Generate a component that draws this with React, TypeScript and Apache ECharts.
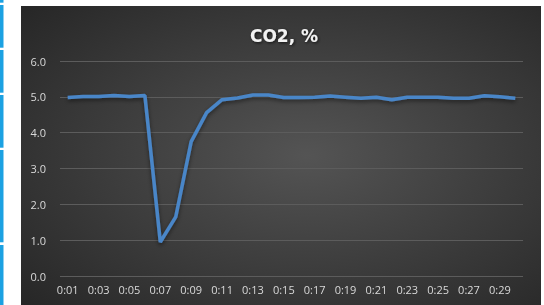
import React, { useEffect, useRef } from "react";
import * as echarts from "echarts";

const categories = [
  "0:01", "0:02", "0:03", "0:04", "0:05", "0:06", "0:07", "0:08", "0:09", "0:10",
  "0:11", "0:12", "0:13", "0:14", "0:15", "0:16", "0:17", "0:18", "0:19", "0:20",
  "0:21", "0:22", "0:23", "0:24", "0:25", "0:26", "0:27", "0:28", "0:29", "0:30",
];
const co2Values = [
  4.98, 5.01, 5.01, 5.04, 5.01, 5.04, 0.95, 1.65, 3.75, 4.56,
  4.92, 4.97, 5.05, 5.05, 4.98, 4.98, 4.99, 5.02, 4.99, 4.96,
  4.99, 4.92, 4.99, 4.99, 4.99, 4.96, 4.96, 5.03, 5.0, 4.96,
];
const yTicks = [0, 1, 2, 3, 4, 5, 6];
const titleText = "CO2, %";
const stripeSegments: [number, number][] = [
  [0, 2.7], [5, 47.7], [50, 92.7], [95, 147.7], [150, 242.3], [245, 305],
];

export default function App() {
  const ref = useRef<HTMLDivElement>(null);
  useEffect(() => {
    if (!ref.current) return;
    const chart = echarts.init(ref.current, undefined, { renderer: "svg" });
    const graphics: any[] = [
      {
        type: "rect",
        shape: { x: 0, y: 0, width: 544, height: 305 },
        style: { fill: "#ffffff" },
        z: -20,
        silent: true,
      },
      ...stripeSegments.map(([a, b]) => ({
        type: "rect",
        shape: { x: 0, y: a, width: 3.5, height: b - a },
        style: { fill: "#1ba1e2" },
        z: -19,
        silent: true,
      })),
      {
        type: "rect",
        shape: { x: 21, y: 6, width: 520, height: 299 },
        style: {
          fill: new echarts.graphic.RadialGradient(0.55, 0.5, 0.75, [
            { offset: 0, color: "#545454" },
            { offset: 1, color: "#262626" },
          ]),
        },
        z: -18,
        silent: true,
      },
    ];
    chart.setOption({
      animation: false,
      backgroundColor: "transparent",
      title: {
        text: titleText,
        left: 279,
        top: 22,
        textAlign: "center",
        textStyle: {
          color: "#f2f2f2",
          fontFamily: "DejaVu Sans",
          fontWeight: "bold",
          fontSize: 17,
          textShadowColor: "rgba(0,0,0,0.7)",
          textShadowBlur: 3,
          textShadowOffsetX: 1,
          textShadowOffsetY: 1,
        },
      },
      graphic: graphics,
      grid: { left: 60, right: 21, top: 61, bottom: 29, containLabel: false },
      xAxis: {
        type: "category",
        data: categories,
        boundaryGap: true,
        axisLine: { show: false },
        axisTick: { show: false },
        axisLabel: {
          interval: 1,
          color: "#d9d9d9",
          fontFamily: "Open Sans",
          fontSize: 11,
          margin: 8,
        },
      },
      yAxis: {
        type: "value",
        min: yTicks[0],
        max: yTicks[yTicks.length - 1],
        interval: 1,
        axisLine: { show: false },
        axisTick: { show: false },
        axisLabel: {
          color: "#d9d9d9",
          fontFamily: "Open Sans",
          fontSize: 11,
          margin: 14,
          formatter: (v: number) => v.toFixed(1),
        },
        splitLine: { lineStyle: { color: "#5c5c5c", width: 1 } },
      },
      series: [
        {
          type: "line",
          data: co2Values,
          symbol: "none",
          lineStyle: {
            color: "#4a86c8",
            width: 3.5,
            shadowColor: "rgba(0,0,0,0.5)",
            shadowBlur: 4,
            shadowOffsetY: 2,
          },
          z: 3,
        },
      ],
    });
    return () => chart.dispose();
  }, []);
  return (
    <div
      ref={ref}
      style={{ position: "fixed", left: 0, top: 0, width: 544, height: 305 }}
    />
  );
}
